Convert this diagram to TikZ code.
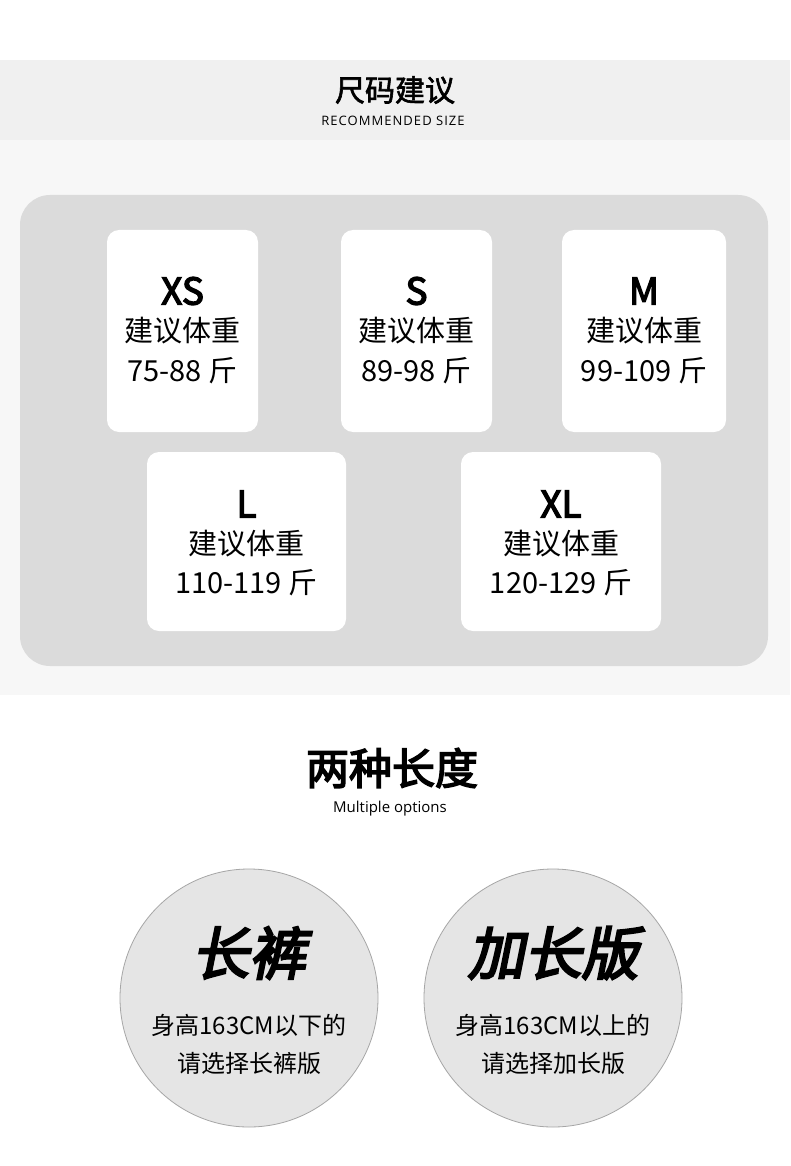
\documentclass[tikz,border=0pt]{standalone}
\usepackage{fontspec}
\setmainfont{Noto Sans CJK SC}
\newfontfamily\cjkb{Noto Sans CJK SC}[FakeBold=2]
\newfontfamily\cjkbb{Noto Sans CJK SC}[FakeBold=3.5]
\newfontfamily\cjkbi{Noto Sans CJK SC}[FakeBold=4,FakeSlant=0.2]
\newfontfamily\lat{Open Sans}
\newfontfamily\latsp{Open Sans}[LetterSpace=8]
\begin{document}
\begin{tikzpicture}[x=1pt,y=-1pt,
  card/.style={fill=white,rounded corners=12pt},
  sz/.style={font=\cjkbb\fontsize{37}{37}\selectfont},
  ln/.style={font=\fontsize{29}{29}\selectfont},
  circ/.style={circle,fill=gray!20,draw=gray!70,line width=0.8pt,minimum size=258pt,inner sep=0pt},
  ctl/.style={font=\cjkbi\fontsize{57}{57}\selectfont},
  ctx/.style={font=\fontsize{24}{24}\selectfont}]
\useasboundingbox (0,0) rectangle (790,1166);
\fill[white] (0,0) rectangle (790,1166);
\fill[gray!12] (0,60) rectangle (790,140);
\fill[gray!6] (0,140) rectangle (790,695);
\node[font=\cjkb\fontsize{30}{30}\selectfont] (t1) at (395,90) {尺码建议};
\node[font=\latsp\fontsize{13}{13}\selectfont] (t2) at (393,121) {RECOMMENDED SIZE};
\fill[gray!28,rounded corners=30pt] (20,195) rectangle (768,666);
\foreach \n/\a/\b/\c/\d/\s/\w in {xs/107/230/258/432/XS/75-88 斤, s/341/230/492/432/S/89-98 斤, m/562/230/726/432/M/99-109 斤}{
  \fill[card] (\a,\b) rectangle (\c,\d);
  \node[sz] (\n a) at ({(\a+\c)/2},291) {\s};
  \node[ln] (\n b) at ({(\a+\c)/2},331) {建议体重};
  \node[ln] (\n c) at ({(\a+\c)/2},371) {\w};
}
\foreach \n/\a/\b/\c/\d/\s/\w in {l/147/452/346/631/L/110-119 斤, xl/461/452/661/631/XL/120-129 斤}{
  \fill[card] (\a,\b) rectangle (\c,\d);
  \node[sz] (\n a) at ({(\a+\c)/2},504) {\s};
  \node[ln] (\n b) at ({(\a+\c)/2},544) {建议体重};
  \node[ln] (\n c) at ({(\a+\c)/2},583) {\w};
}
\node[font=\cjkbb\fontsize{43}{43}\selectfont] (t3) at (392,768) {两种长度};
\node[font=\lat\fontsize{15}{15}\selectfont] (t4) at (390,809) {Multiple options};
\node[circ] (c1) at (249,998) {};
\node[circ] (c2) at (553,998) {};
\node[ctl] (c1a) at (249,953) {长裤};
\node[ctx] (c1b) at (249,1025) {身高163CM以下的};
\node[ctx] (c1c) at (249,1063) {请选择长裤版};
\node[ctl] (c2a) at (553,953) {加长版};
\node[ctx] (c2b) at (553,1025) {身高163CM以上的};
\node[ctx] (c2c) at (553,1063) {请选择加长版};
\end{tikzpicture}
\end{document}
